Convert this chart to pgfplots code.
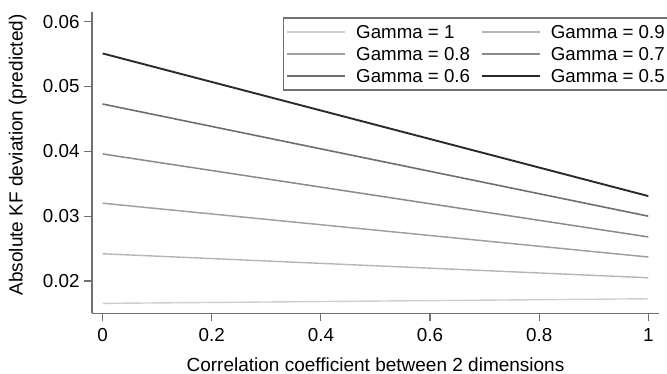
\documentclass[border=0pt]{standalone}
\usepackage{fontspec}
\setmainfont{Liberation Sans}
\usepackage{pgfplots}
\pgfplotsset{compat=1.18}
\definecolor{gA}{HTML}{CFCFCF}
\definecolor{gB}{HTML}{B5B5B5}
\definecolor{gC}{HTML}{A0A0A0}
\definecolor{gD}{HTML}{8A8A8A}
\definecolor{gE}{HTML}{6E6E6E}
\definecolor{gF}{HTML}{2A2A2A}
\definecolor{axc}{HTML}{707070}
\begin{document}
\begin{tikzpicture}[x=1pt,y=1pt]
\useasboundingbox (0,0) rectangle (667,374);
\begin{axis}[
  at={(92pt,60.7pt)}, anchor=south west,
  scale only axis, width=567pt, height=301.6pt,
  xmin=-0.0195, xmax=1.0196, ymin=0.01502, ymax=0.06154,
  axis x line=bottom, axis y line=left,
  axis line style={-, draw=axc, line width=1.3pt},
  tick style={draw=axc, line width=1.1pt},
  tick align=outside, major tick length=8pt,
  scaled y ticks=false, scaled x ticks=false,
  xtick={0,0.2,0.4,0.6,0.8,1},
  ytick={0.02,0.03,0.04,0.05,0.06},
  xticklabels={0,0.2,0.4,0.6,0.8,1},
  yticklabels={0.02,0.03,0.04,0.05,0.06},
  xticklabel style={font=\fontsize{18.8}{22}\selectfont, yshift=-4pt},
  yticklabel style={font=\fontsize{18.8}{22}\selectfont, xshift=-1pt},
  xlabel={Correlation coefficient between 2 dimensions},
  ylabel={Absolute KF deviation (predicted)},
  every axis x label/.style={at={(axis description cs:0.5,-0.192)}, anchor=base, font=\fontsize{19}{22}\selectfont},
  every axis y label/.style={at={(axis description cs:-0.131,0.525)}, rotate=90, anchor=center, font=\fontsize{19}{22}\selectfont},
  legend columns=2,
  legend cell align=left,
  legend style={at={(axis description cs:0.337,0.981)}, anchor=north west,
    draw=axc, line width=1.1pt, inner sep=3pt,
    font=\fontsize{18.7}{22}\selectfont,
    nodes={inner xsep=5pt, inner ysep=0pt, text height=17.7pt, text depth=4.3pt},
    /tikz/every even column/.append style={column sep=6pt}},
  legend image code/.code={\draw[#1] (3pt,0pt) -- (61pt,0pt); \path (66pt,0pt);},
]
\addplot[gA, line width=1.4pt] coordinates {(0,0.01655) (1,0.01726)};
\addlegendentry{Gamma = 1}
\addplot[gB, line width=1.4pt] coordinates {(0,0.0242) (1,0.0205)};
\addlegendentry{Gamma = 0.9}
\addplot[gC, line width=1.5pt] coordinates {(0,0.0320) (1,0.0237)};
\addlegendentry{Gamma = 0.8}
\addplot[gD, line width=1.5pt] coordinates {(0,0.0396) (1,0.0268)};
\addlegendentry{Gamma = 0.7}
\addplot[gE, line width=1.6pt] coordinates {(0,0.0473) (1,0.0300)};
\addlegendentry{Gamma = 0.6}
\addplot[gF, line width=1.9pt] coordinates {(0,0.0551) (1,0.0331)};
\addlegendentry{Gamma = 0.5}
\end{axis}
\end{tikzpicture}
\end{document}
